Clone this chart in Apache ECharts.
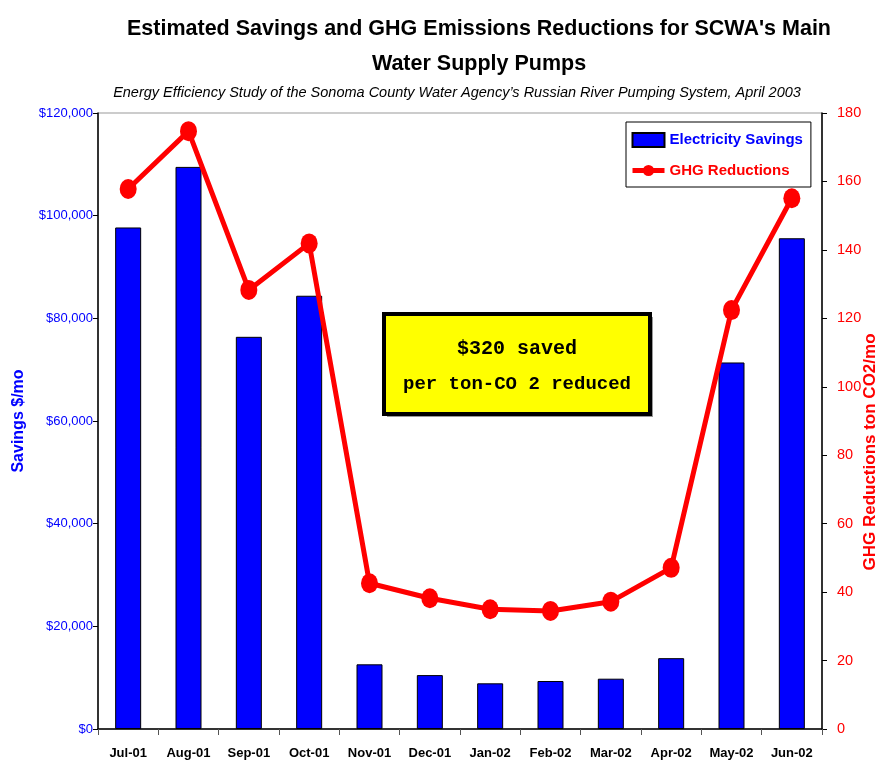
<!DOCTYPE html>
<html>
<head>
<meta charset="utf-8">
<script src="https://cdn.jsdelivr.net/npm/echarts@6/dist/echarts.min.js"></script>
<style>
  html, body { margin: 0; padding: 0; background: #fff; }
  #chart { width: 883px; height: 765px; }
</style>
</head>
<body>
<div id="chart"></div>
<script>
var months = ['Jul-01', 'Aug-01', 'Sep-01', 'Oct-01', 'Nov-01', 'Dec-01',
              'Jan-02', 'Feb-02', 'Mar-02', 'Apr-02', 'May-02', 'Jun-02'];
// electricity savings, $/mo
var savings = [97700, 109500, 76400, 84400, 12600, 10500, 8900, 9350, 9800, 13800, 71400, 95600];
// GHG reductions, ton CO2/mo
var ghg = [157.8, 174.7, 128.3, 141.9, 42.6, 38.2, 35.0, 34.5, 37.2, 47.1, 122.4, 155.1];

var sans = '"Liberation Sans", Arial, sans-serif';

var chart = echarts.init(document.getElementById('chart'));

chart.setOption({
    animation: false,
    backgroundColor: '#fff',
    title: [{
        text: 'Estimated Savings and GHG Emissions Reductions for SCWA\'s Main\nWater Supply Pumps',
        left: 474,
        top: 7,
        textAlign: 'center',
        textStyle: { fontFamily: sans, fontSize: 21.5, fontWeight: 'bold', color: '#000', lineHeight: 35 }
    }, {
        text: 'Energy Efficiency Study of the Sonoma County Water Agency\u2019s Russian River Pumping System, April 2003',
        left: 452,
        top: 80,
        textAlign: 'center',
        textStyle: { fontFamily: sans, fontSize: 14.5, fontStyle: 'italic', fontWeight: 'normal', color: '#000' }
    }],
    legend: {
        orient: 'vertical',
        left: 626,
        top: 122,
        padding: [10, 8, 9, 4],
        itemGap: 15,
        itemWidth: 32,
        itemHeight: 14,
        backgroundColor: '#fff',
        borderColor: '#000',
        borderWidth: 1,
        textStyle: { fontFamily: sans, fontSize: 15, fontWeight: 'bold' },
        data: [
            { name: 'Electricity Savings', icon: 'rect', textStyle: { color: '#0000ff' } },
            { name: 'GHG Reductions', textStyle: { color: '#ff0000' }, lineStyle: { width: 5, color: '#ff0000' } }
        ]
    },
    grid: {
        left: 98,
        right: 61,
        top: 113,
        bottom: 36,
        containLabel: false,
        outerBoundsMode: 'none',
        show: true,
        borderColor: '#999',
        borderWidth: 1
    },
    xAxis: {
        type: 'category',
        data: months,
        axisLine: { lineStyle: { color: '#000', width: 1.5 } },
        axisTick: { show: true, length: 6, lineStyle: { color: '#555' } },
        axisLabel: { interval: 0, color: '#000', fontFamily: sans, fontSize: 13, fontWeight: 'bold', margin: 18 }
    },
    yAxis: [{
        type: 'value',
        min: 0,
        max: 120000,
        interval: 20000,
        name: 'Savings $/mo',
        nameLocation: 'middle',
        nameGap: 71,
        nameRotate: 90,
        nameTextStyle: { color: '#0000ff', fontFamily: sans, fontSize: 16, fontWeight: 'bold' },
        axisLine: { show: true, lineStyle: { color: '#000', width: 1.5 } },
        axisTick: { show: true, length: 5, lineStyle: { color: '#000' } },
        splitLine: { show: false },
        axisLabel: {
            color: '#0000ff', fontFamily: sans, fontSize: 13, margin: 5,
            formatter: function (v) { return '$' + v.toLocaleString('en-US'); }
        }
    }, {
        type: 'value',
        min: 0,
        max: 180,
        interval: 20,
        position: 'right',
        axisLine: { show: true, lineStyle: { color: '#000', width: 1.5 } },
        axisTick: { show: true, length: 5, lineStyle: { color: '#000' } },
        splitLine: { show: false },
        axisLabel: { color: '#ff0000', fontFamily: sans, fontSize: 14.5, margin: 15 }
    }],
    series: [{
        name: 'Electricity Savings',
        type: 'bar',
        data: savings,
        barWidth: 26,
        itemStyle: { color: '#0000ff', borderColor: '#000', borderWidth: 1 }
    }, {
        name: 'GHG Reductions',
        type: 'line',
        yAxisIndex: 1,
        data: ghg,
        symbol: 'circle',
        symbolSize: [17, 20],
        lineStyle: { color: '#ff0000', width: 5 },
        itemStyle: { color: '#ff0000' }
    }],
    graphic: [{
        // right axis title
        type: 'text',
        x: 870,
        y: 452,
        rotation: Math.PI / 2,
        style: {
            text: 'GHG Reductions ton CO2/mo',
            fill: '#ff0000',
            font: 'bold 17px "Liberation Sans", Arial, sans-serif',
            align: 'center',
            verticalAlign: 'middle'
        }
    }, {
        type: 'group',
        left: 382,
        top: 312,
        children: [{
            type: 'rect',
            shape: { x: 3, y: 3, width: 266, height: 100 },
            style: { fill: '#999' }
        }, {
            type: 'rect',
            shape: { x: 0, y: 0, width: 266, height: 100 },
            style: { fill: '#ffff00', stroke: '#000', lineWidth: 4 }
        }, {
            type: 'text',
            x: 133,
            y: 35,
            style: {
                text: '$320 saved',
                fill: '#000',
                font: 'bold 20px "Liberation Mono", "Courier New", monospace',
                align: 'center',
                verticalAlign: 'middle'
            }
        }, {
            type: 'text',
            x: 133,
            y: 70,
            style: {
                text: 'per ton-CO 2 reduced',
                fill: '#000',
                font: 'bold 19px "Liberation Mono", "Courier New", monospace',
                align: 'center',
                verticalAlign: 'middle'
            }
        }]
    }]
});
</script>
</body>
</html>
